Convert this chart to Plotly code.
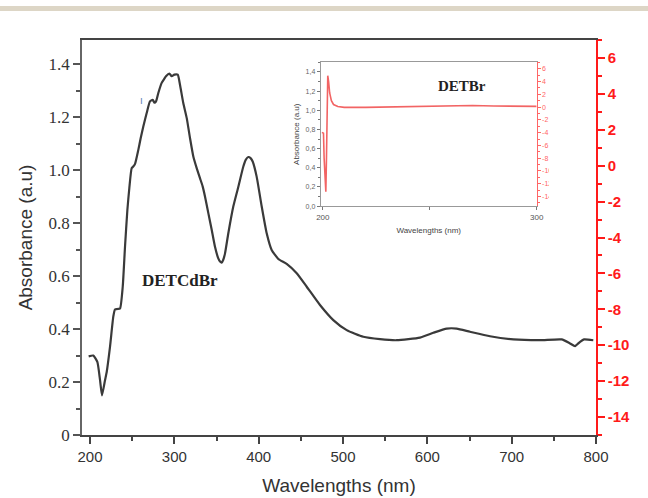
import plotly.graph_objects as go

# DETCdBr absorbance spectrum (main panel)
wl_main = [198.4, 203.9, 208.7, 211.9, 214.2, 217.8, 219.8, 223.7, 227.6, 229.6, 232.5, 235.6,
           238.8, 241.5, 244.3, 246.6, 249.4, 251.5, 253.4, 257.3, 260.0, 263.2, 267.2, 271.1,
           274.3, 276.5, 278.3, 281.0, 285.0, 288.0, 290.1, 294.1, 296.9, 300.0, 304.0, 306.7,
           310.6, 314.7, 318.6, 322.5, 326.5, 330.4, 333.5, 336.4, 340.3, 344.3, 348.2, 352.1,
           354.2, 356.1, 358.0, 360.1, 364.0, 369.9, 375.9, 381.8, 384.8, 387.7, 390.4, 392.9,
           397.6, 403.6, 409.5, 415.4, 423.3, 433.2, 445.1, 457.0, 472.7, 488.5, 504.4, 524.1,
           543.9, 563.7, 591.3, 607.1, 623.0, 634.8, 650.6, 674.3, 702.0, 733.6, 759.3, 769.2,
           775.1, 781.1, 785.8, 796.8]
abs_main = [0.297, 0.300, 0.276, 0.207, 0.150, 0.207, 0.238, 0.333, 0.447, 0.474, 0.476, 0.478,
            0.560, 0.711, 0.850, 0.932, 1.008, 1.015, 1.024, 1.077, 1.120, 1.165, 1.216, 1.260,
            1.266, 1.255, 1.260, 1.292, 1.330, 1.345, 1.355, 1.365, 1.355, 1.361, 1.361, 1.323,
            1.254, 1.197, 1.121, 1.052, 1.008, 0.970, 0.940, 0.900, 0.838, 0.775, 0.711, 0.667,
            0.655, 0.651, 0.662, 0.686, 0.762, 0.863, 0.938, 1.014, 1.040, 1.050, 1.046, 1.033,
            0.976, 0.863, 0.762, 0.699, 0.665, 0.646, 0.611, 0.560, 0.491, 0.434, 0.396, 0.371,
            0.362, 0.358, 0.368, 0.386, 0.402, 0.402, 0.390, 0.373, 0.361, 0.358, 0.361, 0.346,
            0.336, 0.352, 0.361, 0.358]

# DETBr absorbance spectrum (inset)
wl_inset = [199.6, 200.3, 200.6, 201.0, 201.4, 201.7, 202.0, 202.3, 202.7, 203.2, 204.0, 205.0,
            207.0, 210.0, 220.0, 230.0, 240.0, 250.0, 260.0, 270.0, 280.0, 290.0, 300.0]
abs_inset = [0.77, 0.76, 0.50, 0.20, 0.15, 0.50, 1.10, 1.36, 1.30, 1.18, 1.10, 1.06,
             1.04, 1.03, 1.03, 1.035, 1.035, 1.04, 1.045, 1.05, 1.045, 1.04, 1.04]

# Tick labels
left_vals = [0, 0.2, 0.4, 0.6, 0.8, 1.0, 1.2, 1.4]
left_text = ["0", "0.2", "0.4", "0.6", "0.8", "1.0", "1.2", "1.4"]
right_vals = [6, 4, 2, 0, -2, -4, -6, -8, -10, -12, -14]
right_text = ["6", "4", "2", "0", "-2", "-4", "-6", "-8", "-10", "-12", "-14"]
inset_left_text = ["0,0", "0,2", "0,4", "0,6", "0,8", "1,0", "1,2", "1,4"]
x_vals = [200, 300, 400, 500, 600, 700, 800]

RED = "#ff1a1a"
DARK = "#3a3a3a"
GREY = "#777777"

fig = go.Figure()
fig.add_trace(go.Scatter(x=wl_main, y=abs_main, mode="lines",
                         line=dict(color=DARK, width=2.2, shape="spline", smoothing=0.5),
                         xaxis="x", yaxis="y", showlegend=False, hoverinfo="skip"))
fig.add_trace(go.Scatter(x=wl_inset, y=abs_inset, mode="lines",
                         line=dict(color="#f26464", width=1.6), xaxis="x3", yaxis="y3",
                         showlegend=False, hoverinfo="skip"))

# inset domain within the plotting area
ix0, ix1 = 0.4644, 0.8846
iy0, iy1 = 0.5794, 0.9435

fig.update_layout(
    width=648, height=498,
    margin=dict(l=82, r=52, t=40, b=63),
    paper_bgcolor="white", plot_bgcolor="white",
    xaxis=dict(range=[190.5, 800], tickvals=x_vals, ticks="outside", ticklen=7,
               tickwidth=1.5, tickcolor="#444", showline=True, linecolor="#444",
               linewidth=1.5, mirror=True, showgrid=False, zeroline=False, automargin=False,
               minor=dict(dtick=50, tick0=200, ticks="outside", ticklen=4, tickcolor="#444"),
               tickfont=dict(family="Liberation Sans, Arial", size=15, color="#333"),
               title=dict(text="Wavelengths (nm)", standoff=15,
                          font=dict(family="Liberation Sans, Arial", size=19, color="#333"))),
    yaxis=dict(range=[0, 1.492], tickvals=left_vals, ticktext=left_text, ticks="outside",
               ticklen=7, tickwidth=1.5, tickcolor="#555", showline=True, linecolor="#666",
               linewidth=1.5, showgrid=False, zeroline=False, automargin=False,
               minor=dict(dtick=0.1, tick0=0, ticks="outside", ticklen=4, tickcolor="#555"),
               tickfont=dict(family="Liberation Serif, Times New Roman", size=17, color="#333"),
               title=dict(text="Absorbance (a.u)", standoff=11,
                          font=dict(family="Liberation Sans, Arial", size=19, color="#333"))),
    yaxis2=dict(range=[-15, 7], overlaying="y", side="right", tickvals=right_vals,
                ticktext=right_text, ticks="outside", ticklen=7, tickwidth=1.5,
                tickcolor=RED, showline=True, linecolor=RED, linewidth=1.5,
                showgrid=False, zeroline=False, automargin=False,
                minor=dict(dtick=1, tick0=0, ticks="outside", ticklen=4, tickcolor=RED),
                tickfont=dict(family="Liberation Sans, Arial", size=15, color=RED,
                              weight="bold")),
    xaxis3=dict(domain=[ix0, ix1], anchor="y3", range=[199, 300], tickvals=[200, 300],
                ticks="outside", ticklen=3, tickcolor=GREY, showline=True,
                linecolor="#999", linewidth=1, mirror=True, showgrid=False, zeroline=False,
                automargin=False,
                minor=dict(dtick=50, tick0=200, ticks="outside", ticklen=3, tickcolor=GREY),
                tickfont=dict(family="Liberation Sans, Arial", size=8, color="#555"),
                title=dict(text="Wavelengths (nm)", standoff=6,
                           font=dict(family="Liberation Sans, Arial", size=8, color="#444"))),
    yaxis3=dict(domain=[iy0, iy1], anchor="x3", range=[0, 1.5], tickvals=left_vals,
                ticktext=inset_left_text, ticks="outside", ticklen=3, tickcolor=GREY,
                showline=True, linecolor="#999", linewidth=1, showgrid=False, zeroline=False,
                automargin=False,
                minor=dict(dtick=0.1, tick0=0, ticks="outside", ticklen=2, tickcolor=GREY),
                tickfont=dict(family="Liberation Sans, Arial", size=7, color="#666"),
                title=dict(text="Absorbance (a.u)", standoff=4,
                           font=dict(family="Liberation Sans, Arial", size=8, color="#444"))),
    yaxis4=dict(domain=[iy0, iy1], anchor="x3", overlaying="y3", side="right",
                range=[-15.5, 7], tickvals=right_vals, ticktext=right_text,
                ticks="outside", ticklen=3, tickcolor="#ff6666", showline=True,
                linecolor="#ff6666", linewidth=1, showgrid=False, zeroline=False,
                automargin=False,
                minor=dict(dtick=1, tick0=0, ticks="outside", ticklen=2, tickcolor="#ff6666"),
                tickfont=dict(family="Liberation Sans, Arial", size=7, color="#ff6666")),
)

# empty traces so the right-hand axes get drawn
fig.add_trace(go.Scatter(x=[None], y=[None], xaxis="x", yaxis="y2", showlegend=False))
fig.add_trace(go.Scatter(x=[None], y=[None], xaxis="x3", yaxis="y4", showlegend=False))

# clip the inset's right-hand labels at the edge of the pasted panel
fig.add_shape(type="rect", xref="paper", yref="paper", x0=ix1 + 0.024, x1=ix1 + 0.075,
              y0=iy0 - 0.03, y1=iy1 + 0.03, fillcolor="white", line=dict(width=0),
              layer="above")

# beige header band
fig.add_shape(type="rect", xref="paper", yref="paper", x0=-0.17, x1=1.11,
              y0=1.0735, y1=1.086, fillcolor="#ddd6c6", line=dict(width=0), layer="above")

fig.add_annotation(x=307, y=0.585, xref="x", yref="y", text="<b>DETCdBr</b>",
                   showarrow=False,
                   font=dict(family="Liberation Serif, Times New Roman", size=17, color="#222"))
fig.add_annotation(x=260.5, y=1.263, xref="x", yref="y", text="ı", showarrow=False,
                   font=dict(family="Liberation Sans", size=10, color="#5b7fb5"))
fig.add_annotation(x=265, y=1.25, xref="x3", yref="y3", text="<b>DETBr</b>",
                   showarrow=False,
                   font=dict(family="Liberation Serif, Times New Roman", size=15, color="#222"))

fig.write_html("out.html")
